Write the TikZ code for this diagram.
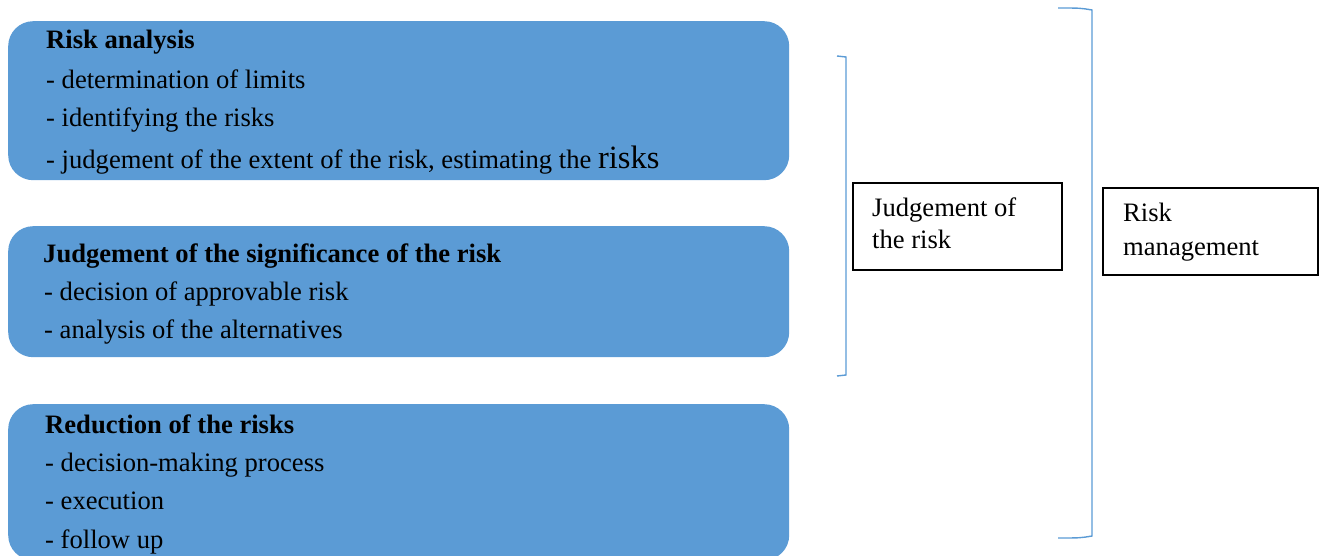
\documentclass[tikz,border=0pt]{standalone}
\usepackage{fontspec}
\setmainfont{Liberation Serif}
\definecolor{boxblue}{HTML}{5B9BD5}
\tikzset{
  bluebox/.style={fill=boxblue, draw=none, rounded corners=25pt, inner sep=0pt, anchor=north west},
  plainbox/.style={draw=black, line width=1.8pt, fill=white, inner sep=0pt, anchor=north west},
  txt/.style={anchor=base west, inner sep=0pt, font=\fontsize{26.6}{30}\selectfont},
  btxt/.style={txt, font=\fontsize{26.6}{30}\selectfont\bfseries},
  brk/.style={draw=boxblue, line width=1.4pt}
}
\begin{document}
\begin{tikzpicture}[x=1pt, y=-1pt]
\useasboundingbox (0,0) rectangle (1323,556);
\begin{scope}
\clip (0,0) rectangle (1323,556);
% blue boxes
\node[bluebox, minimum width=781pt, minimum height=159pt] (b1) at (8,21) {};
\node[bluebox, minimum width=781pt, minimum height=131pt] (b2) at (8,226) {};
\node[bluebox, minimum width=781pt, minimum height=156pt] (b3) at (8,404) {};
\end{scope}
% box 1 text
\node[btxt] (t11) at (46,48.5) {Risk analysis};
\node[txt] (t12) at (46,88.5) {- determination of limits};
\node[txt] (t13) at (46,126.5) {- identifying the risks};
\node[txt] (t14) at (46,168.5) {- judgement of the extent of the risk, estimating the {\fontsize{32.5}{36}\selectfont risks}};
% box 2 text
\node[btxt] (t21) at (43,262.5) {Judgement of the significance of the risk};
\node[txt] (t22) at (44,300.5) {- decision of approvable risk};
\node[txt] (t23) at (44,338.5) {- analysis of the alternatives};
% box 3 text
\node[btxt] (t31) at (45,433.5) {Reduction of the risks};
\node[txt] (t32) at (45,471.5) {- decision-making process};
\node[txt] (t33) at (45,509.5) {- execution};
\node[txt] (t34) at (45,548.5) {- follow up};
% right boxes
\node[plainbox, minimum width=209pt, minimum height=87pt] (jr) at (852,182) {};
\node[txt] (jr1) at (872,217) {Judgement of};
\node[txt] (jr2) at (872,249) {the risk};
\node[plainbox, minimum width=215pt, minimum height=87pt] (rm) at (1102,187) {};
\node[txt] (rm1) at (1123,222) {Risk};
\node[txt] (rm2) at (1123,255) {management};
% brackets
\coordinate (i1) at (837,56);
\coordinate (i2) at (846,57);
\coordinate (i3) at (846,375);
\coordinate (i4) at (837,376);
\draw[brk] (i1) .. controls (842,56) .. (i2) -- (i3) .. controls (842,376) .. (i4);
\coordinate (o1) at (1058,8);
\coordinate (o2) at (1092,10);
\coordinate (o3) at (1092,536);
\coordinate (o4) at (1058,538);
\draw[brk] (o1) .. controls (1080,8) .. (o2) -- (o3) .. controls (1080,538) .. (o4);
\end{tikzpicture}
\end{document}
